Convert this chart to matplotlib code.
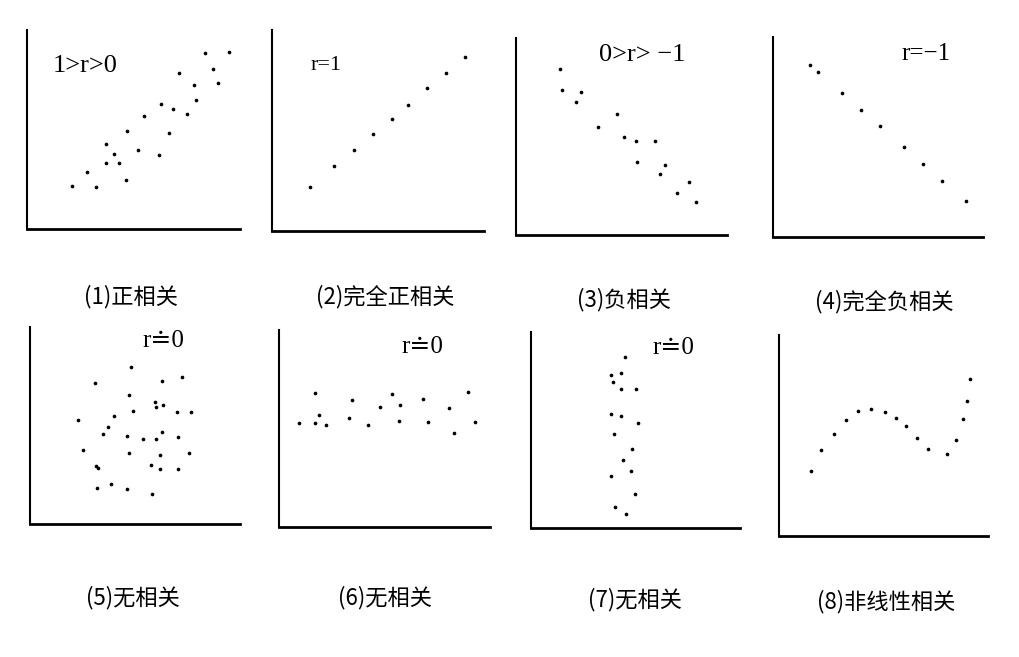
import matplotlib
matplotlib.use("Agg")
import matplotlib.pyplot as plt

# ---- data (positions, in panel units) ----
p1_x = [44.7, 59.7, 69.3, 78.7, 78.7, 87.3, 92.3, 99, 99.7, 111, 116.7, 131.7, 134, 142.3, 145.7, 151.7, 159.7, 167, 168.7, 178, 186, 191, 202.3]
p1_y = [42.7, 56.7, 42.3, 85, 65.7, 75.3, 65.7, 49.3, 98.3, 79, 113.3, 74.3, 125, 95.7, 120, 155.7, 115, 143.7, 129.3, 175.7, 159.7, 145.7, 177.3]

p2_x = [37.7, 62.3, 82, 100.7, 120.3, 135.7, 155, 174.3, 193.3]
p2_y = [43.7, 64.7, 80.7, 96.7, 112, 125.7, 142.7, 158.3, 174.3]

p3_x = [44.3, 46.3, 64.7, 59.7, 101, 81.7, 107.7, 120, 138.7, 121.3, 149, 143.7, 173, 160.7, 179.7]
p3_y = [165.7, 144.7, 142.7, 133, 121, 107.7, 98, 93.7, 93.7, 72.7, 70.3, 60.7, 53.3, 42, 32.7]

p4_x = [36.7, 45.3, 69.3, 88, 106.7, 131, 149.7, 168.7, 193]
p4_y = [172.3, 164.7, 143.7, 126.7, 110.7, 90, 73, 56.3, 35.7]

p5_x = [101, 65, 132, 152.3, 99, 124.7, 126.3, 133.3, 102.7, 146.7, 160.7, 83.7, 47.7, 78.3, 73, 97, 113, 126, 131.7, 148.3, 52.7, 98.7, 129.7, 158.7, 66, 67.7, 120.7, 129.7, 148, 67.3, 81, 96.7, 122.3]
p5_y = [156.7, 141, 142.7, 147, 128.7, 121.7, 117, 119, 113, 112.3, 112.3, 108.3, 104, 97, 90, 87.7, 85.3, 85, 92, 86.7, 74.3, 71.3, 68.7, 71, 57.7, 56, 59.3, 55, 54.7, 35.7, 39.7, 35, 30.3]

p6_x = [20, 35.7, 35.7, 40.3, 47.3, 69.7, 73.3, 88.7, 101, 113, 119.7, 121.3, 144, 148.7, 169.7, 175, 188.7, 195.7]
p6_y = [104.3, 134, 104.3, 111.7, 102, 108.7, 127, 101.7, 119.7, 133, 105.7, 121.7, 128, 105.3, 118.7, 93.7, 135, 104.7]

p7_x = [93.7, 80, 89.7, 81.7, 89.7, 105, 79.7, 89.7, 106.7, 82.7, 101, 92.3, 99.7, 80.3, 104, 83.7, 95.3]
p7_y = [171.3, 153, 155.3, 146, 139, 138.7, 113.7, 111.7, 104.7, 93.7, 79.3, 67.7, 57, 52.3, 34, 20.7, 13.7]

p8_x = [31.7, 42.3, 54.7, 67, 79, 92.3, 106.3, 117, 127.3, 137.7, 149.3, 168.3, 177, 184, 188, 191.3]
p8_y = [65.3, 86, 102, 115.7, 124.7, 127, 124.3, 117.7, 110.3, 98.3, 86.7, 82, 95.7, 116.7, 134.7, 156.7]

r_labels = ["1>r>0", "r=1", "0>r> \u22121", "r=\u22121", "r\u22500", "r\u22500", "r\u22500", ""]
captions = ["(1)正相关", "(2)完全正相关", "(3)负相关", "(4)完全负相关",
            "(5)无相关", "(6)无相关", "(7)无相关", "(8)非线性相关"]

xs = [p1_x, p2_x, p3_x, p4_x, p5_x, p6_x, p7_x, p8_x]
ys = [p1_y, p2_y, p3_y, p4_y, p5_y, p6_y, p7_y, p8_y]

# ---- layout (pixels) ----
W, H = 1020, 657
rects = [(27, 240, 30, 229), (272, 484, 30, 231), (516, 727, 38, 235), (773, 983, 37, 237),
         (30, 240, 327, 524), (279, 490, 330, 527), (531, 740, 332, 528), (779, 988, 335, 536)]
label_pos = [(58, 163), (54, 165), (126, 180), (153, 183), (133, 183), (143, 180), (142, 180), (0, 0)]
label_size = [19, 16, 19, 18, 18, 18, 18, 18]
cap_pos = [(131, 297), (385, 297), (624, 300), (884, 302),
           (133, 598), (385, 598), (635, 600), (886, 602)]

fig = plt.figure(figsize=(W / 100, H / 100), dpi=100)
fig.patch.set_facecolor("white")
serif = ["Liberation Serif", "DejaVu Serif", "DejaVu Sans"]
cjk = ["Noto Sans CJK SC", "DejaVu Sans"]

for i in range(8):
    l, r, t, b = rects[i]
    ax = fig.add_axes([l / W, 1 - b / H, (r - l) / W, (b - t) / H])
    ax.set_xlim(0, r - l)
    ax.set_ylim(0, b - t)
    ax.scatter(xs[i], ys[i], s=7, color="black", clip_on=False, linewidths=0)
    for s in ["top", "right"]:
        ax.spines[s].set_visible(False)
    ax.spines["left"].set_linewidth(1.5)
    ax.spines["bottom"].set_linewidth(2.0)
    ax.set_xticks([])
    ax.set_yticks([])
    ax.patch.set_alpha(0)
    if r_labels[i]:
        ax.text(label_pos[i][0], label_pos[i][1], r_labels[i], ha="center", va="center",
                fontsize=label_size[i], family=serif)
    fig.text(cap_pos[i][0] / W, 1 - cap_pos[i][1] / H, captions[i], ha="center", va="center",
             fontsize=16, family=cjk)

fig.savefig("out.png", dpi=100, facecolor="white")
